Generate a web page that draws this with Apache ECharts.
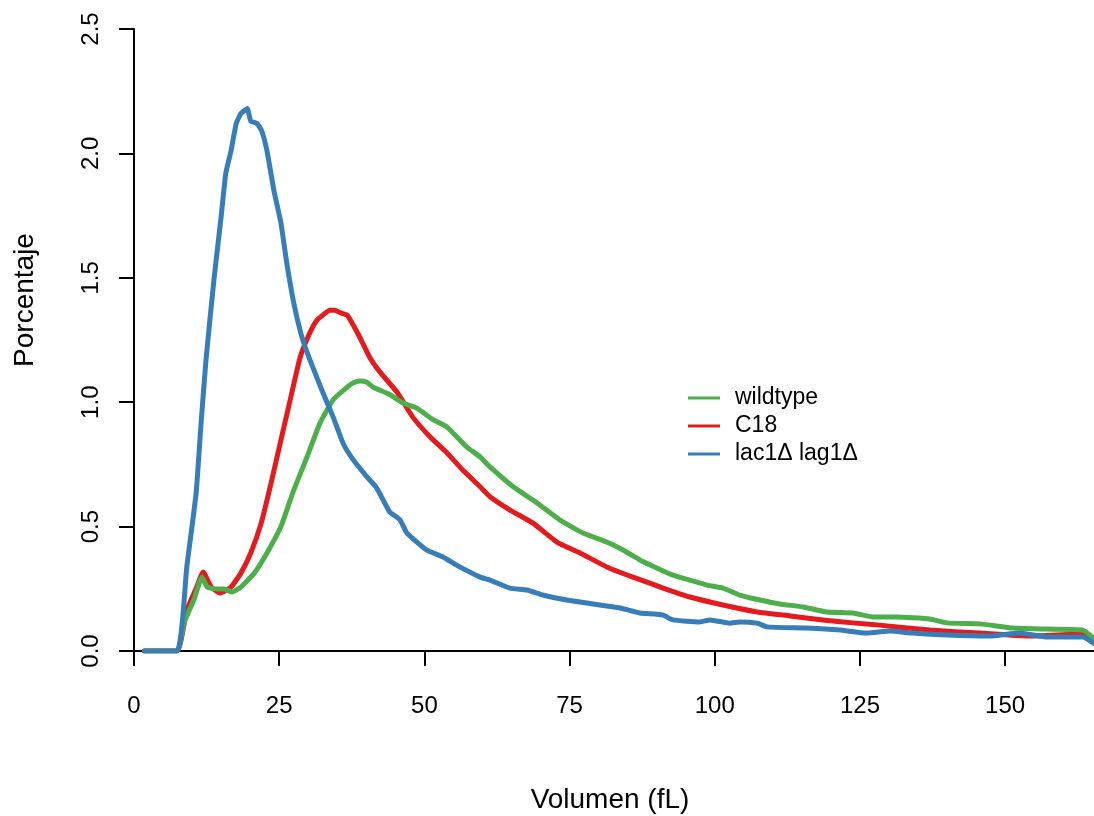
<!DOCTYPE html>
<html>
<head>
<meta charset="utf-8">
<script src="https://cdn.jsdelivr.net/npm/echarts@6/dist/echarts.min.js"></script>
<style>
html,body{margin:0;padding:0;background:#fff;}
#chart{width:1094px;height:816px;}
</style>
</head>
<body>
<div id="chart"></div>
<script>
// ---- data ----
var seriesNames = ['wildtype', 'C18', 'lac1\u0394 lag1\u0394'];
var xTicks = [0, 25, 50, 75, 100, 125, 150];
var yTicks = [0, 0.5, 1.0, 1.5, 2.0, 2.5];

var wildX = [1.8, 7.4, 8.6, 10.3, 11.7, 12.6, 14.3, 15.5, 16.9, 18.4, 20.7, 22.9, 25.3, 27.4, 29.8, 32.0, 34.3, 36.7, 37.7, 38.9, 40.1, 41.2, 44.1, 46.3, 48.7, 51.5, 53.9, 57.3, 59.6, 61.3, 65.3, 69.4, 73.3, 77.3, 81.4, 84.2, 87.1, 90.0, 92.8, 95.7, 98.7, 101.4, 104.3, 107.8, 111.2, 115.2, 119.3, 123.8, 127.2, 131.4, 137.0, 140.0, 145.7, 151.3, 157.2, 163.4, 165.3];
var wildY = [0, 0, 0.113, 0.205, 0.297, 0.257, 0.249, 0.249, 0.237, 0.257, 0.313, 0.394, 0.5, 0.64, 0.78, 0.915, 1.01, 1.06, 1.077, 1.085, 1.08, 1.06, 1.03, 0.997, 0.976, 0.93, 0.90, 0.82, 0.78, 0.74, 0.66, 0.595, 0.527, 0.474, 0.438, 0.406, 0.366, 0.334, 0.305, 0.285, 0.265, 0.253, 0.225, 0.205, 0.189, 0.177, 0.157, 0.153, 0.137, 0.137, 0.129, 0.113, 0.109, 0.092, 0.088, 0.084, 0.05];

var c18X = [1.8, 7.4, 9.1, 10.8, 11.9, 13.3, 14.8, 16.7, 18.4, 20.1, 21.9, 23.6, 25.3, 27.0, 28.6, 30.3, 31.5, 32.5, 33.7, 34.6, 35.5, 36.7, 37.5, 38.9, 40.6, 42.4, 45.3, 48.0, 51.0, 53.9, 56.6, 59.6, 61.3, 64.7, 68.7, 72.8, 76.8, 81.4, 85.9, 88.8, 90.6, 95.7, 101.4, 107.3, 113.0, 118.6, 123.8, 128.4, 137.0, 145.7, 154.3, 163.4, 165.3];
var c18Y = [0, 0, 0.165, 0.257, 0.318, 0.257, 0.233, 0.257, 0.313, 0.394, 0.514, 0.675, 0.848, 1.02, 1.18, 1.28, 1.33, 1.35, 1.37, 1.37, 1.36, 1.35, 1.32, 1.26, 1.18, 1.12, 1.04, 0.94, 0.86, 0.796, 0.727, 0.66, 0.62, 0.567, 0.514, 0.438, 0.394, 0.338, 0.297, 0.273, 0.257, 0.217, 0.185, 0.157, 0.141, 0.125, 0.113, 0.104, 0.084, 0.072, 0.06, 0.068, 0.04];

var lacX = [1.8, 7.4, 9.1, 10.7, 11.5, 12.4, 13.8, 15.0, 15.8, 16.7, 17.6, 18.4, 19.5, 20.1, 21.2, 22.0, 22.9, 24.1, 25.3, 26.3, 27.5, 28.7, 29.8, 30.8, 32.5, 34.3, 36.0, 37.7, 40.1, 41.8, 44.0, 45.8, 47.0, 50.4, 53.2, 56.1, 59.6, 61.3, 64.7, 67.7, 70.4, 74.5, 78.0, 80.2, 83.7, 87.1, 91.0, 92.8, 97.4, 99.2, 102.6, 104.3, 107.3, 109.0, 115.9, 121.6, 126.2, 130.2, 134.0, 140.0, 147.4, 152.5, 157.2, 163.4, 165.3];
var lacY = [0, 0, 0.34, 0.635, 0.90, 1.17, 1.50, 1.745, 1.92, 2.01, 2.12, 2.16, 2.18, 2.13, 2.12, 2.09, 2.01, 1.85, 1.72, 1.56, 1.40, 1.28, 1.20, 1.14, 1.04, 0.94, 0.835, 0.77, 0.70, 0.655, 0.56, 0.527, 0.474, 0.406, 0.378, 0.338, 0.297, 0.285, 0.253, 0.245, 0.225, 0.205, 0.193, 0.185, 0.173, 0.153, 0.145, 0.125, 0.117, 0.125, 0.112, 0.117, 0.112, 0.097, 0.092, 0.084, 0.072, 0.08, 0.072, 0.064, 0.06, 0.072, 0.056, 0.056, 0.03];

var colors = ['#4DAF4A', '#E41A1C', '#377EB8'];

function pairs(xs, ys) { return xs.map(function (x, i) { return [x, ys[i]]; }); }

var FONT = 'Liberation Sans, Arial, Helvetica, sans-serif';
var chart = echarts.init(document.getElementById('chart'), null, {renderer: 'canvas'});

var lineSeries = [
  {name: seriesNames[0], data: pairs(wildX, wildY), color: colors[0], z: 3},
  {name: seriesNames[1], data: pairs(c18X, c18Y), color: colors[1], z: 2},
  {name: seriesNames[2], data: pairs(lacX, lacY), color: colors[2], z: 4}
].map(function (s) {
  return {
    type: 'line', name: s.name, data: s.data, z: s.z,
    showSymbol: false, symbol: 'none', smooth: 0.15,
    color: s.color,
    lineStyle: {color: s.color, width: 5, join: 'round', cap: 'round'},
    clip: true, animation: false
  };
});

chart.setOption({
  animation: false,
  backgroundColor: '#ffffff',
  grid: {left: 134, right: 0, top: 29, bottom: 165, containLabel: false},
  legend: {
    orient: 'vertical', left: 683, top: 379,
    itemWidth: 32, itemHeight: 14, itemGap: 0,
    icon: 'path://M0,6 L32,6 L32,9 L0,9 Z',
    textStyle: {fontFamily: FONT, fontSize: 23, color: '#000', lineHeight: 28, padding: [0, 0, 0, 10]},
    data: seriesNames.map(function (n, i) { return {name: n, itemStyle: {color: colors[i]}}; })
  },
  xAxis: {
    type: 'value', min: 0, max: 165.3,
    splitLine: {show: false},
    axisLine: {show: true, onZero: false, lineStyle: {color: '#000', width: 2}},
    axisTick: {show: true, length: 15, lineStyle: {color: '#000', width: 2}, customValues: xTicks},
    axisLabel: {show: true, margin: 43, fontFamily: FONT, fontSize: 24, color: '#000', customValues: xTicks,
      formatter: function (v) { return String(v); }}
  },
  yAxis: {
    type: 'value', min: 0, max: 2.5, interval: 0.5,
    splitLine: {show: false},
    axisLine: {show: true, onZero: false, lineStyle: {color: '#000', width: 2}},
    axisTick: {show: true, length: 15, lineStyle: {color: '#000', width: 2}},
    axisLabel: {show: true, rotate: 90, margin: 31, fontFamily: FONT, fontSize: 24, color: '#000',
      formatter: function (v) { return v.toFixed(1); }}
  },
  graphic: [
    {type: 'text', x: 610, y: 800, style: {text: 'Volumen (fL)', x: 0, y: 0, align: 'center', verticalAlign: 'middle', fontFamily: FONT, fontSize: 28, fill: '#000'}},
    {type: 'text', x: 25, y: 300, rotation: Math.PI / 2, style: {text: 'Porcentaje', x: 0, y: 0, align: 'center', verticalAlign: 'middle', fontFamily: FONT, fontSize: 28, fill: '#000'}}
  ],
  series: lineSeries
});
</script>
</body>
</html>
